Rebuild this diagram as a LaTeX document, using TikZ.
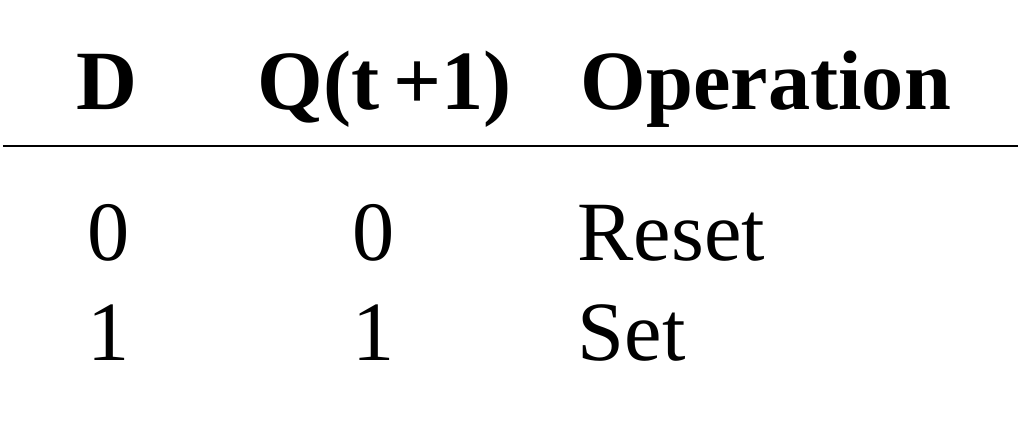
\documentclass[tikz,border=0pt]{standalone}
\usepackage{fontspec}
\setmainfont{Liberation Serif}

\begin{document}
\begin{tikzpicture}[
		head/.style={font=\fontsize{24}{28}\selectfont\bfseries, anchor=base, inner sep=0pt},
		cell/.style={font=\fontsize{24}{28}\selectfont, anchor=base, inner sep=0pt}]
			\useasboundingbox (0,0) rectangle (10.22,4.30);

			% header
			\node[head] (hD) at (1.065,3.20) {D};
			\node[head] (hQ) at (3.85,3.20) {Q(t\,+1)};
			\node[head, anchor=base west] (hOp) at (5.80,3.20) {Operation};

			\coordinate (l1) at (0.03,2.84);
			\coordinate (l2) at (10.18,2.84);
			\draw[line width=0.6pt] (l1) -- (l2);

			% rows
			\node[cell] (d0) at (1.09,1.70) {0};
			\node[cell] (q0) at (3.74,1.70) {0};
			\node[cell, anchor=base west] (op0) at (5.77,1.70) {Reset};

			\node[cell] (d1) at (1.09,0.70) {1};
			\node[cell] (q1) at (3.74,0.70) {1};
			\node[cell, anchor=base west] (op1) at (5.77,0.70) {Set};
		\end{tikzpicture}
\end{document}
